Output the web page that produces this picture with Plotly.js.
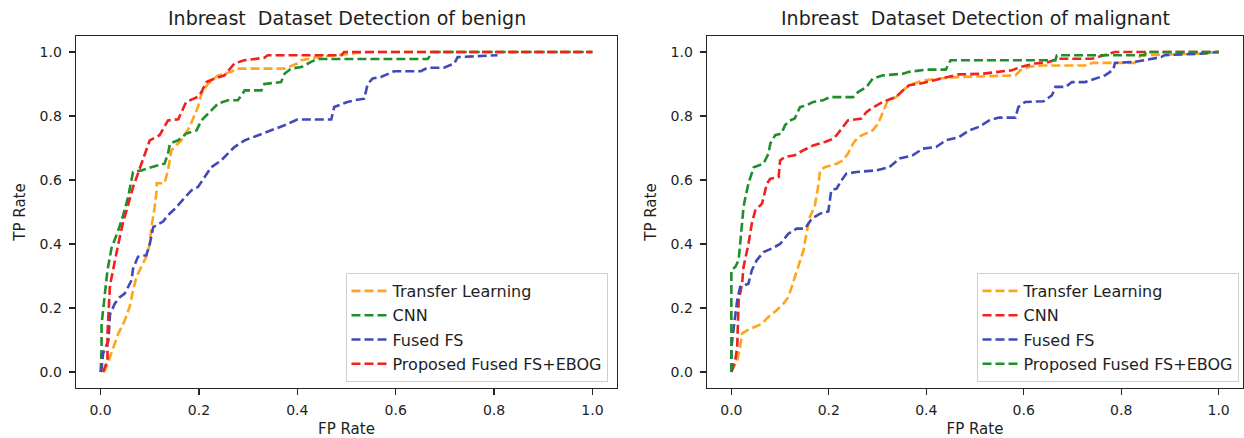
<!DOCTYPE html>
<html>
<head>
<meta charset="utf-8">
<script src="https://cdn.plot.ly/plotly-3.0.1.min.js"></script>
<style>html,body{margin:0;padding:0;background:#fff;}#chart{width:1244px;height:438px;}</style>
</head>
<body>
<div id="chart"></div>
<script>
// ---------- Data ----------
var seriesNames = ["Transfer Learning", "CNN", "Fused FS", "Proposed Fused FS+EBOG"];
var tickVals = [0, 0.2, 0.4, 0.6, 0.8, 1.0];
var tickLabels = ["0.0", "0.2", "0.4", "0.6", "0.8", "1.0"];

// Left panel: benign
var benignTL_x = [0.005, 0.009, 0.019, 0.029, 0.036, 0.049, 0.059, 0.066, 0.073, 0.083, 0.093, 0.100, 0.103, 0.110, 0.114, 0.114, 0.130, 0.137, 0.144, 0.164, 0.181, 0.198, 0.205, 0.218, 0.239, 0.266, 0.276, 0.374, 0.400, 0.408, 0.440, 0.509, 0.55, 1.0];
var benignTL_y = [0, 0.005, 0.047, 0.090, 0.120, 0.160, 0.203, 0.255, 0.297, 0.330, 0.360, 0.400, 0.450, 0.515, 0.568, 0.590, 0.590, 0.630, 0.693, 0.724, 0.766, 0.828, 0.870, 0.900, 0.927, 0.938, 0.948, 0.948, 0.964, 0.974, 0.984, 0.995, 1.0, 1.0];

var benignCNN_x = [0, 0.002, 0.002, 0.005, 0.009, 0.014, 0.019, 0.022, 0.036, 0.046, 0.056, 0.063, 0.066, 0.083, 0.103, 0.130, 0.137, 0.141, 0.158, 0.174, 0.195, 0.205, 0.218, 0.239, 0.259, 0.279, 0.289, 0.293, 0.327, 0.333, 0.367, 0.374, 0.387, 0.408, 0.428, 0.440, 0.665, 0.675, 1.0];
var benignCNN_y = [0, 0.068, 0.150, 0.190, 0.255, 0.318, 0.360, 0.386, 0.443, 0.490, 0.547, 0.600, 0.625, 0.630, 0.640, 0.651, 0.682, 0.714, 0.724, 0.745, 0.755, 0.786, 0.807, 0.839, 0.849, 0.849, 0.870, 0.880, 0.880, 0.900, 0.906, 0.932, 0.948, 0.953, 0.969, 0.978, 0.978, 1.0, 1.0];

var benignFS_x = [0, 0.002, 0.005, 0.016, 0.019, 0.029, 0.039, 0.049, 0.063, 0.066, 0.076, 0.093, 0.100, 0.107, 0.127, 0.137, 0.151, 0.171, 0.185, 0.198, 0.212, 0.225, 0.245, 0.259, 0.272, 0.293, 0.320, 0.347, 0.374, 0.400, 0.469, 0.475, 0.502, 0.516, 0.536, 0.543, 0.553, 0.570, 0.584, 0.597, 0.651, 0.665, 0.698, 0.719, 0.726, 0.807];
var benignFS_y = [0, 0.010, 0.057, 0.099, 0.180, 0.214, 0.234, 0.245, 0.287, 0.323, 0.360, 0.365, 0.400, 0.453, 0.470, 0.490, 0.510, 0.545, 0.568, 0.578, 0.609, 0.640, 0.661, 0.682, 0.703, 0.724, 0.740, 0.755, 0.771, 0.789, 0.789, 0.828, 0.844, 0.849, 0.854, 0.900, 0.917, 0.922, 0.932, 0.940, 0.940, 0.951, 0.951, 0.964, 0.984, 0.990];

var benignProp_x = [0.005, 0.014, 0.014, 0.016, 0.019, 0.036, 0.046, 0.053, 0.066, 0.076, 0.100, 0.120, 0.127, 0.137, 0.158, 0.174, 0.198, 0.205, 0.215, 0.232, 0.252, 0.272, 0.292, 0.333, 0.340, 0.490, 0.495, 1.0];
var benignProp_y = [0, 0.036, 0.120, 0.180, 0.270, 0.400, 0.470, 0.505, 0.578, 0.620, 0.724, 0.740, 0.760, 0.786, 0.790, 0.844, 0.860, 0.875, 0.906, 0.917, 0.927, 0.964, 0.974, 0.982, 0.990, 0.990, 1.0, 1.0];

// Right panel: malignant
var malTL_x = [0, 0.012, 0.018, 0.022, 0.032, 0.046, 0.063, 0.076, 0.093, 0.107, 0.117, 0.127, 0.137, 0.148, 0.154, 0.161, 0.171, 0.178, 0.182, 0.192, 0.216, 0.229, 0.239, 0.250, 0.260, 0.277, 0.290, 0.301, 0.311, 0.321, 0.338, 0.352, 0.365, 0.393, 0.427, 0.467, 0.583, 0.593, 0.610, 0.637, 0.733, 0.740, 0.828, 0.841, 0.964, 1.0];
var malTL_y = [0, 0.036, 0.078, 0.120, 0.130, 0.140, 0.151, 0.172, 0.193, 0.214, 0.234, 0.281, 0.328, 0.380, 0.432, 0.484, 0.518, 0.578, 0.630, 0.640, 0.651, 0.661, 0.682, 0.714, 0.734, 0.745, 0.755, 0.776, 0.812, 0.849, 0.859, 0.880, 0.896, 0.911, 0.917, 0.922, 0.927, 0.943, 0.953, 0.958, 0.958, 0.966, 0.966, 0.990, 0.995, 1.0];

var malCNN_x = [0, 0.008, 0.012, 0.015, 0.022, 0.025, 0.035, 0.042, 0.049, 0.063, 0.073, 0.080, 0.097, 0.100, 0.110, 0.130, 0.148, 0.168, 0.192, 0.209, 0.216, 0.229, 0.239, 0.267, 0.277, 0.287, 0.311, 0.328, 0.338, 0.352, 0.365, 0.386, 0.413, 0.440, 0.467, 0.515, 0.549, 0.576, 0.593, 0.624, 0.651, 0.671, 0.740, 0.787, 1.0];
var malCNN_y = [0, 0.036, 0.078, 0.224, 0.276, 0.328, 0.400, 0.464, 0.505, 0.526, 0.589, 0.604, 0.609, 0.661, 0.672, 0.677, 0.693, 0.708, 0.719, 0.729, 0.740, 0.766, 0.786, 0.792, 0.812, 0.823, 0.844, 0.854, 0.859, 0.880, 0.896, 0.901, 0.911, 0.922, 0.930, 0.932, 0.938, 0.943, 0.953, 0.964, 0.969, 0.979, 0.979, 1.0, 1.0];

var malFS_x = [0, 0, 0.005, 0.008, 0.012, 0.018, 0.035, 0.042, 0.052, 0.066, 0.083, 0.100, 0.117, 0.134, 0.151, 0.165, 0.182, 0.199, 0.205, 0.216, 0.226, 0.236, 0.257, 0.297, 0.324, 0.345, 0.372, 0.393, 0.420, 0.440, 0.467, 0.488, 0.508, 0.529, 0.549, 0.583, 0.589, 0.603, 0.641, 0.658, 0.665, 0.686, 0.699, 0.726, 0.746, 0.767, 0.784, 0.787, 0.828, 0.855, 0.882, 0.889, 0.964, 1.0];
var malFS_y = [0, 0.078, 0.140, 0.172, 0.224, 0.266, 0.276, 0.318, 0.349, 0.375, 0.386, 0.400, 0.432, 0.448, 0.448, 0.479, 0.495, 0.502, 0.568, 0.573, 0.599, 0.620, 0.625, 0.630, 0.640, 0.667, 0.677, 0.698, 0.703, 0.724, 0.734, 0.755, 0.766, 0.786, 0.795, 0.795, 0.828, 0.844, 0.846, 0.865, 0.891, 0.891, 0.906, 0.906, 0.917, 0.927, 0.945, 0.966, 0.969, 0.976, 0.984, 0.990, 0.995, 1.0];

var malProp_x = [0, 0, 0, 0.008, 0.015, 0.018, 0.022, 0.025, 0.029, 0.035, 0.046, 0.066, 0.076, 0.080, 0.090, 0.103, 0.110, 0.120, 0.130, 0.141, 0.154, 0.168, 0.188, 0.202, 0.250, 0.260, 0.277, 0.290, 0.311, 0.352, 0.365, 0.400, 0.440, 0.450, 0.665, 0.668, 0.848, 0.850, 1.0];
var malProp_y = [0, 0.099, 0.318, 0.328, 0.350, 0.400, 0.474, 0.516, 0.547, 0.589, 0.640, 0.651, 0.682, 0.714, 0.740, 0.745, 0.771, 0.786, 0.792, 0.828, 0.833, 0.844, 0.849, 0.859, 0.859, 0.875, 0.890, 0.917, 0.927, 0.932, 0.938, 0.945, 0.945, 0.974, 0.974, 0.990, 0.990, 1.0, 1.0];

// ---------- Styling ----------
var ORANGE = "#FFA41B", GREEN = "#1F8F2C", BLUE = "#4149B8", RED = "#F2201E";
var FONT = "DejaVu Sans, Verdana, sans-serif";
var TXT = "#1e1e1e";

function tr(x, y, name, color, xa, ya, lg, grp) {
  return {
    type: "scatter", mode: "lines", x: x, y: y, name: name,
    xaxis: xa, yaxis: ya, legend: lg, legendgroup: grp,
    line: { color: color, width: 2.6, dash: "9px,4px" },
    hoverinfo: "skip"
  };
}

var data = [
  tr(benignTL_x, benignTL_y, seriesNames[0], ORANGE, "x", "y", "legend", "a1"),
  tr(benignCNN_x, benignCNN_y, seriesNames[1], GREEN, "x", "y", "legend", "a2"),
  tr(benignFS_x, benignFS_y, seriesNames[2], BLUE, "x", "y", "legend", "a3"),
  tr(benignProp_x, benignProp_y, seriesNames[3], RED, "x", "y", "legend", "a4"),
  tr(malTL_x, malTL_y, seriesNames[0], ORANGE, "x2", "y2", "legend2", "b1"),
  tr(malCNN_x, malCNN_y, seriesNames[1], RED, "x2", "y2", "legend2", "b2"),
  tr(malFS_x, malFS_y, seriesNames[2], BLUE, "x2", "y2", "legend2", "b3"),
  tr(malProp_x, malProp_y, seriesNames[3], GREEN, "x2", "y2", "legend2", "b4")
];

function xax(domain, anchor) {
  return {
    domain: domain, anchor: anchor, range: [-0.05, 1.05],
    tickvals: tickVals, ticktext: tickLabels,
    showgrid: false, zeroline: false, showline: true, mirror: true,
    linecolor: "#262626", linewidth: 1.4,
    ticks: "outside", ticklen: 6, tickwidth: 1.3, tickcolor: "#262626",
    tickfont: { family: FONT, size: 14, color: TXT },
    ticklabelstandoff: 3,
    title: { text: "FP Rate", font: { family: FONT, size: 15, color: TXT }, standoff: 8 }
  };
}
function yax(anchor) {
  return {
    domain: [1 - 388 / 438, 1 - 36 / 438], anchor: anchor, range: [-0.05, 1.05],
    tickvals: tickVals, ticktext: tickLabels,
    showgrid: false, zeroline: false, showline: true, mirror: true,
    linecolor: "#262626", linewidth: 1.4,
    ticks: "outside", ticklen: 6, tickwidth: 1.3, tickcolor: "#262626",
    tickfont: { family: FONT, size: 14, color: TXT },
    ticklabelstandoff: 4,
    title: { text: "TP Rate", font: { family: FONT, size: 15, color: TXT }, standoff: 10 }
  };
}
function leg(xr) {
  return {
    x: xr, y: 1 - 382 / 438, xanchor: "right", yanchor: "bottom",
    xref: "paper", yref: "paper",
    bgcolor: "rgba(255,255,255,0.85)", bordercolor: "#cfcfcf", borderwidth: 1,
    font: { family: FONT, size: 16, color: TXT },
    itemwidth: 36,
    traceorder: "grouped", tracegroupgap: 0.5
  };
}

var layout = {
  width: 1244, height: 438,
  margin: { l: 0, r: 0, t: 0, b: 0 },
  paper_bgcolor: "#ffffff", plot_bgcolor: "#ffffff",
  showlegend: true,
  xaxis: xax([76 / 1244, 617 / 1244], "y"),
  yaxis: yax("x"),
  xaxis2: xax([707 / 1244, 1243 / 1244], "y2"),
  yaxis2: yax("x2"),
  legend: leg(607.5 / 1244),
  legend2: leg(1238.5 / 1244),
  annotations: [
    { text: "Inbreast\u00a0 Dataset Detection of benign", xref: "x domain", yref: "paper",
      x: 0.5, y: 1 - 18 / 438, xanchor: "center", yanchor: "middle", showarrow: false,
      font: { family: FONT, size: 19, color: TXT } },
    { text: "Inbreast\u00a0 Dataset Detection of malignant", xref: "x2 domain", yref: "paper",
      x: 0.5, y: 1 - 18 / 438, xanchor: "center", yanchor: "middle", showarrow: false,
      font: { family: FONT, size: 19, color: TXT } }
  ]
};

Plotly.newPlot("chart", data, layout, { displayModeBar: false, staticPlot: true });
</script>
</body>
</html>
